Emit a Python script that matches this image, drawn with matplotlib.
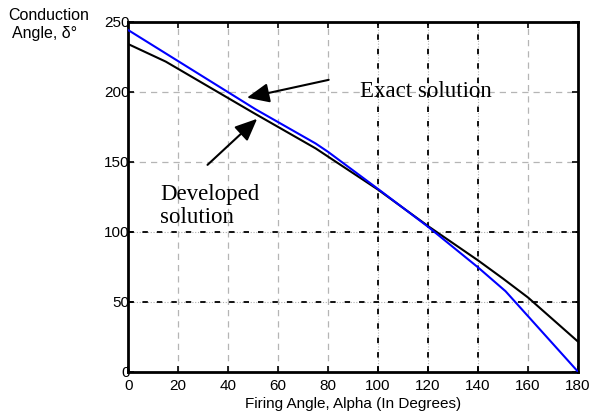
import matplotlib
matplotlib.use("Agg")
import matplotlib.pyplot as plt

# Data
alpha_exact = [0, 20, 40, 51, 75, 80, 100, 120, 140, 151, 180]
delta_exact = [244, 221.8, 199.6, 187.4, 163, 157, 130.5, 103.5, 74.5, 57.5, 0]

alpha_dev = [0, 15, 50, 75, 100, 120, 140, 150, 160, 180]
delta_dev = [234, 221.5, 185, 159.5, 130, 104, 79.5, 66.5, 53, 21.5]

xticks = [0, 20, 40, 60, 80, 100, 120, 140, 160, 180]
yticks = [0, 50, 100, 150, 200, 250]
dark_vgrid = [100, 120, 140]
dark_hgrid = [50, 100]

sans = ["Liberation Sans", "DejaVu Sans"]
serif = ["Liberation Serif", "DejaVu Serif"]

fig = plt.figure(figsize=(6.0, 4.16), dpi=100)
ax = fig.add_axes([0.2138, 0.1065, 0.7495, 0.8413])

ax.set_xlim(0, 180)
ax.set_ylim(0, 250)

# grid
for x in xticks[1:-1]:
    if x in dark_vgrid:
        ax.axvline(x, color="#b0b0b0", lw=0.8, ls=(0, (1, 1.5)), zorder=1)
        ax.axvline(x, color="black", lw=1.3, ls=(0, (3, 5)), zorder=1)
    else:
        ax.axvline(x, color="#b5b5b5", lw=0.9, ls=(0, (5, 4)), zorder=1)
for y in yticks[1:-1]:
    if y in dark_hgrid:
        ax.axhline(y, color="#b0b0b0", lw=0.8, ls=(0, (1, 1.5)), zorder=1)
        ax.axhline(y, color="black", lw=1.3, ls=(0, (3, 5)), zorder=1)
    else:
        ax.axhline(y, color="#b5b5b5", lw=0.9, ls=(0, (5, 4)), zorder=1)

ax.plot(alpha_dev, delta_dev, color="black", lw=1.5, zorder=3)
ax.plot(alpha_exact, delta_exact, color="#0000ff", lw=1.5, zorder=3)

ax.set_xticks(xticks)
ax.set_yticks(yticks)
ax.tick_params(direction="in", length=4, width=1.2, top=True, right=True,
               labelsize=11)
ax.tick_params(axis="x", pad=5.5)
ax.tick_params(axis="y", pad=-1)
for lab in ax.get_xticklabels() + ax.get_yticklabels():
    lab.set_family(sans)
for s in ax.spines.values():
    s.set_linewidth(2)

ax.set_xlabel("Firing Angle, Alpha (In Degrees)", family=sans, fontsize=11, labelpad=2.5)

fig.text(0.013, 0.963, "Conduction", family=sans, fontsize=11.5, va="center", ha="left")
fig.text(0.02, 0.92, "Angle, δ°", family=sans, fontsize=11.5, va="center", ha="left")

ax.annotate("", xy=(46.4, 195.3), xytext=(81.3, 208.9),
            arrowprops=dict(arrowstyle="-|>,head_length=0.8,head_width=0.35",
                            color="black", lw=1.5, mutation_scale=17), zorder=4)
ax.annotate("", xy=(52.4, 182), xytext=(30.9, 146.4),
            arrowprops=dict(arrowstyle="-|>,head_length=0.8,head_width=0.35",
                            color="black", lw=1.5, mutation_scale=17), zorder=4)

ax.text(92.6, 200, "Exact solution", family=serif, fontsize=16.5, va="center", ha="left", zorder=5)
ax.text(12.8, 118.5, "Developed\nsolution", family=serif, fontsize=16.5, va="center", ha="left",
        linespacing=1.15, zorder=5)

fig.savefig("out.png", dpi=100)
